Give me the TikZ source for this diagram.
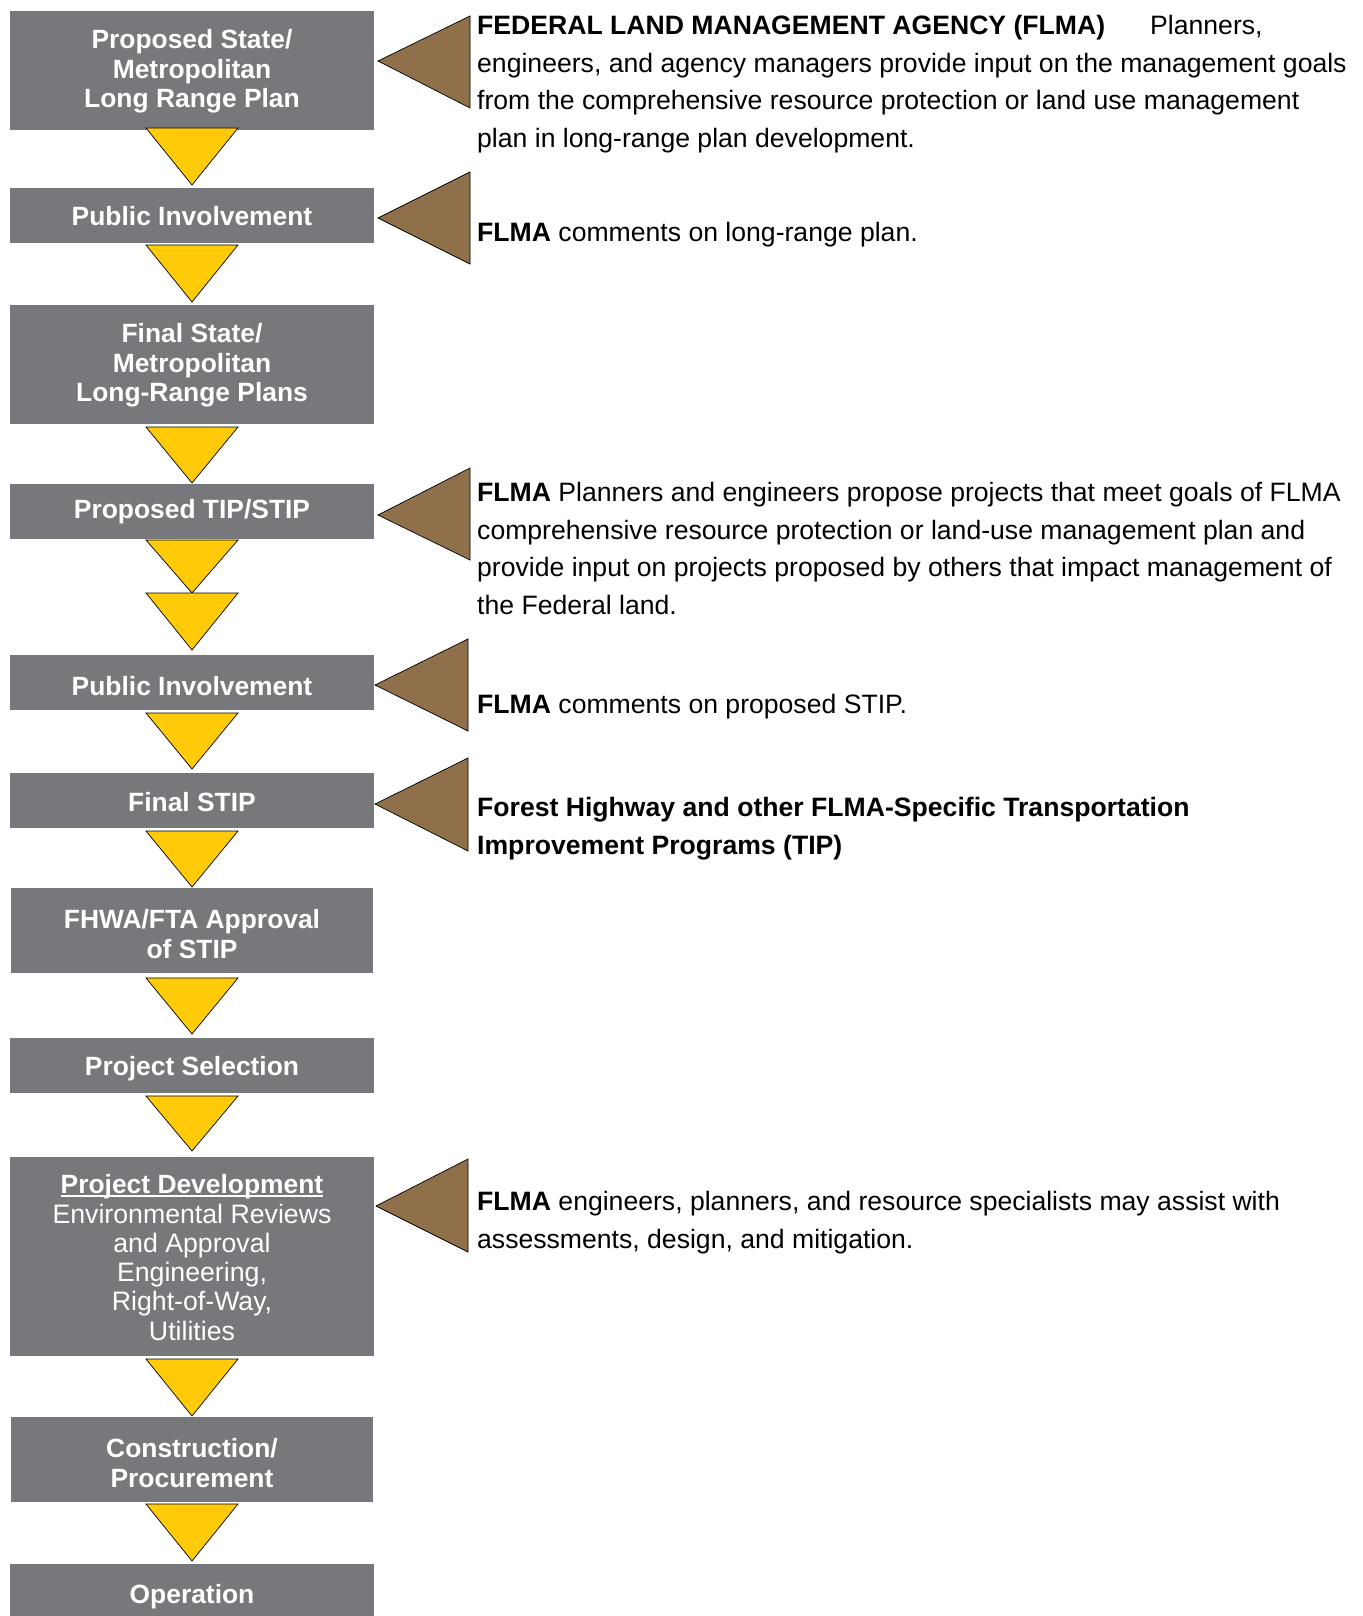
\documentclass[tikz,border=0pt]{standalone}
\usepackage{fontspec}
\setmainfont{Liberation Sans}
\definecolor{boxgray}{HTML}{77787B}
\definecolor{flowyellow}{HTML}{FFCA08}
\definecolor{flmabrown}{HTML}{8F704B}
\newcommand\yelltri[3]{\draw[flowtri] (146,#2) -- (238,#2) -- (192,#3) -- cycle;}
\newcommand\browntri[5]{\draw[flmatri] (#1,#2) -- (#3,#4) -- (#3,#5) -- cycle;}
\newcommand\myuline[1]{\setbox0\hbox{#1}\rlap{\rule[-3.2pt]{\wd0}{1.5pt}}\box0}
\begin{document}
\begin{tikzpicture}[x=1pt,y=-1pt,
  stepbox/.style={fill=boxgray, draw=none, inner sep=0pt, minimum width=364pt},
  boxtext/.style={text=white, font=\fontsize{26.4}{29.3}\selectfont\bfseries,
    align=center, inner sep=0pt, yshift=-2pt},
  flowtri/.style={fill=flowyellow, draw=black, line width=0.7pt, line join=miter},
  flmatri/.style={fill=flmabrown, draw=black, line width=0.7pt, line join=miter},
  note/.style={anchor=base west, inner sep=0pt, align=left,
    font=\fontsize{26.6}{37.5}\selectfont, text=black}]
\useasboundingbox[fill=white] (0,0) rectangle (1362,1616);

% process boxes
\node[stepbox, minimum height=119pt, label={[boxtext, yshift=1pt]center:{Proposed State/\\Metropolitan\\Long Range Plan}}] (b1) at (192,70.5) {};
\node[stepbox, minimum height=55pt, label={[boxtext, yshift=1pt]center:{Public Involvement}}] (b2) at (192,215.5) {};
\node[stepbox, minimum height=119pt, label={[boxtext, yshift=1pt]center:{Final State/\\Metropolitan\\Long-Range Plans}}] (b3) at (192,364.5) {};
\node[stepbox, minimum height=55pt, label={[boxtext, yshift=2pt]center:{Proposed TIP/STIP}}] (b4) at (192,511.5) {};
\node[stepbox, minimum height=55pt, label={[boxtext, yshift=-1.5pt]center:{Public Involvement}}] (b5) at (192,682.5) {};
\node[stepbox, minimum height=55pt, label={[boxtext]center:{Final STIP}}] (b6) at (192,800.5) {};
\node[stepbox, minimum height=85pt, minimum width=362pt, label={[boxtext, yshift=-1.5pt]center:{FHWA/FTA Approval\\of STIP}}] (b7) at (192,930.5) {};
\node[stepbox, minimum height=55pt, label={[boxtext, yshift=-1.5pt]center:{Project Selection}}] (b8) at (192,1065.5) {};
\node[stepbox, minimum height=199pt, label={[boxtext, yshift=1pt]center:{\myuline{Project Development}\\\mdseries\fontsize{26.7}{29.3}\selectfont Environmental Reviews\\\mdseries\fontsize{26.7}{29.3}\selectfont and Approval\\\mdseries\fontsize{26.7}{29.3}\selectfont Engineering,\\\mdseries\fontsize{26.7}{29.3}\selectfont Right-of-Way,\\\mdseries\fontsize{26.7}{29.3}\selectfont Utilities}}] (b9) at (192,1256.5) {};
\node[stepbox, minimum height=85pt, minimum width=362pt, label={[boxtext, yshift=-1.5pt]center:{Construction/\\Procurement}}] (b10) at (192,1459.5) {};
\node[stepbox, minimum height=56pt, label={[boxtext, yshift=-2.5pt]center:{Operation}}] (b11) at (192,1592) {};

% yellow flow triangles
\yelltri{b1}{128}{185}
\yelltri{b2}{245}{302}
\yelltri{b3}{427}{483}
\yelltri{b4}{540}{593}
\yelltri{b4}{593}{650}
\yelltri{b5}{713}{769}
\yelltri{b6}{831}{887}
\yelltri{b7}{978}{1034}
\yelltri{b8}{1096}{1151}
\yelltri{b9}{1359}{1416}
\yelltri{b10}{1504}{1561}

% brown FLMA triangles
\browntri{378}{61}{470}{16}{108}
\browntri{378}{218}{470}{172}{264}
\browntri{378}{515}{470}{468}{560}
\browntri{375}{685}{468}{639}{731}
\browntri{375}{804}{468}{758}{851}
\browntri{376}{1206}{468}{1159}{1252}

% FLMA notes (anchor = baseline of the last line)
\node[note] (t1) at (477,147.5) {\textbf{FEDERAL LAND MANAGEMENT AGENCY (FLMA)}\hspace*{45pt}Planners,\\engineers, and agency managers provide input on the management goals\\from the comprehensive resource protection or land use management\\plan in long-range plan development.};
\node[note] (t2) at (477,241.3) {\textbf{FLMA} comments on long-range plan.};
\node[note] (t3) at (477,614.3) {\textbf{FLMA} Planners and engineers propose projects that meet goals of FLMA\\comprehensive resource protection or land-use management plan and\\provide input on projects proposed by others that impact management of\\the Federal land.};
\node[note] (t4) at (477,713.3) {\textbf{FLMA} comments on proposed STIP.};
\node[note, font=\fontsize{26.6}{37.5}\selectfont\bfseries] (t5) at (477,854.3) {Forest Highway and other FLMA-Specific Transportation\\Improvement Programs (TIP)};
\node[note] (t6) at (477,1248.3) {\textbf{FLMA} engineers, planners, and resource specialists may assist with\\assessments, design, and mitigation.};
\end{tikzpicture}
\end{document}
